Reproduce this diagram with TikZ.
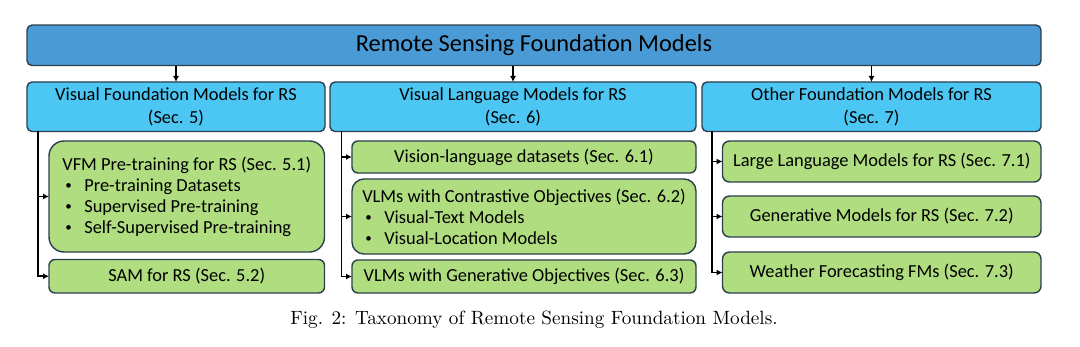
\documentclass[tikz,border=0pt]{standalone}
\usepackage{fontspec}
\newfontfamily\boxfont{Carlito}
\usepackage{tikz}
\usetikzlibrary{arrows.meta, positioning}
\definecolor{rootblue}{HTML}{4A9BD5}
\definecolor{secblue}{HTML}{4CC7F4}
\definecolor{subgreen}{HTML}{B0DD80}
\definecolor{edgegray}{HTML}{2B3F4E}
\newcommand{\bul}{\makebox[11pt][l]{\hspace{1.5pt}\raisebox{0.2ex}{\fontsize{6.5}{6.5}\selectfont\textbullet}}}

\begin{document}
\begin{tikzpicture}[
  x=0.5pt, y=-0.5pt,
  box/.style={draw=edgegray, line width=0.7pt, align=center, inner sep=0pt, outer sep=0pt, font=\boxfont\fontsize{9.2}{10.5}\selectfont},
  root/.style={box, fill=rootblue, rounded corners=2.5pt, minimum width=507pt, minimum height=20.25pt, font=\boxfont\fontsize{12.2}{14}\selectfont},
  section/.style={box, fill=secblue, rounded corners=2.5pt, minimum height=24.75pt, font=\boxfont\fontsize{9.2}{11.25}\selectfont},
  leaf/.style={box, fill=subgreen, rounded corners=3pt, minimum height=16.5pt},
  arrow/.style={-{Latex[length=3pt,width=3pt]}, line width=0.9pt}
]
  \useasboundingbox (0,0) rectangle (1080,347);

  \node[root] (rsfm) at (534,45.3) {Remote Sensing Foundation Models};
  \node[section, minimum width=149pt] (vfm) at (176,106.75) {Visual Foundation Models for RS\\(Sec. 5)};
  \node[section, minimum width=183pt] (vlm) at (513,106.75) {Visual Language Models for RS\\(Sec. 6)};
  \node[section, minimum width=169.5pt] (other) at (871.5,106.75) {Other Foundation Models for RS\\(Sec. 7)};

  % visual foundation models
  \node[leaf, align=left, minimum width=137.75pt, minimum height=55.5pt, rounded corners=7.5pt] (vfmpre) at (186.75,196.5)
    {VFM Pre-training for RS (Sec. 5.1)\\\bul Pre-training Datasets\\\bul Supervised Pre-training\\\bul Self-Supervised Pre-training};
  \node[leaf, minimum width=137.75pt, minimum height=16.75pt, below=3.75pt of vfmpre] (sam) {SAM for RS (Sec. 5.2)};

  % visual language models
  \node[leaf, minimum width=172pt, minimum height=16pt] (vldata) at (524,157) {Vision-language datasets (Sec. 6.1)};
  \node[leaf, align=left, minimum width=172pt, minimum height=37.5pt, rounded corners=6pt, below=3pt of vldata] (contrast)
    {VLMs with Contrastive Objectives (Sec. 6.2)\\\bul Visual-Text Models\\\bul Visual-Location Models};
  \node[leaf, minimum width=172pt, below=3pt of contrast] (generative) {VLMs with Generative Objectives (Sec. 6.3)};

  % other foundation models
  \node[leaf, minimum width=159.25pt, minimum height=20.5pt, rounded corners=3.5pt] (llm) at (881.75,161.5) {Large Language Models for RS (Sec. 7.1)};
  \node[leaf, minimum width=159.25pt, minimum height=20.5pt, rounded corners=3.5pt, below=7pt of llm] (genrs) {Generative Models for RS (Sec. 7.2)};
  \node[leaf, minimum width=159.25pt, minimum height=20.5pt, rounded corners=3.5pt, below=7.5pt of genrs] (weather) {Weather Forecasting FMs (Sec. 7.3)};

  \node[font=\fontsize{9.6}{12}\selectfont] (caption) at (534,320) {Fig. 2: Taxonomy of Remote Sensing Foundation Models.};

  \foreach \sec in {vfm, vlm, other}
    \draw[arrow] (\sec.north |- rsfm.south) -- (\sec.north);
  \foreach \leafnode in {vfmpre, sam}
    \draw[arrow] ([xshift=5.5pt]vfm.south west) |- (\leafnode.west);
  \foreach \leafnode in {vldata, contrast, generative}
    \draw[arrow] ([xshift=5.75pt]vlm.south west) |- (\leafnode.west);
  \foreach \leafnode in {llm, genrs, weather}
    \draw[arrow] ([xshift=5pt]other.south west) |- (\leafnode.west);
\end{tikzpicture}
\end{document}
